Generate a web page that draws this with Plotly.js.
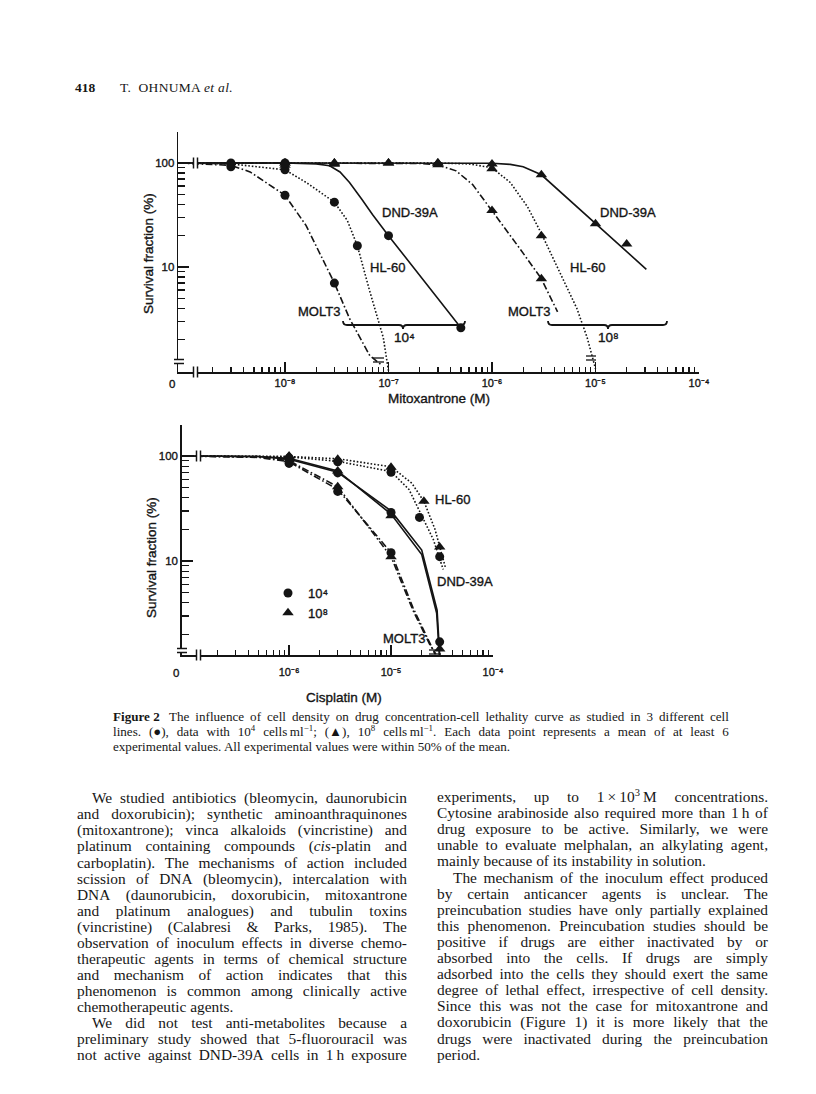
<!DOCTYPE html>
<html><head><meta charset="utf-8">
<script src="https://cdn.plot.ly/plotly-3.0.1.min.js"></script>
<style>
html,body{margin:0;padding:0;background:#fff;}
#page{position:relative;width:816px;height:1094px;overflow:hidden;background:#fff;}
#chart{position:absolute;left:0;top:0;width:816px;height:1094px;}
#chart text{stroke:#141414;stroke-width:0.35px;}
.txt{position:absolute;font-family:'Liberation Serif','Times New Roman',serif;color:#161616;white-space:nowrap;}
.jl{display:flex;justify-content:space-between;}
.txt sup{font-size:68%;line-height:0;vertical-align:0.55em;}
</style></head>
<body><div id="page"><div id="chart"></div><div id="text"></div></div>
<script>
// ---------------- DATA ----------------
// Mitoxantrone (top panel); 0 = zero concentration / zero survival (axis break)
const mitoMajorVals = [1e-8, 1e-7, 1e-6, 1e-5, 1e-4];
const mitoMajorText = ['10⁻⁸', '10⁻⁷', '10⁻⁶', '10⁻⁵', '10⁻⁴'];
const survMajorVals = [10, 100];
const survMajorText = ['10', '100'];

// 10^4 cells/ml (circles)
const mitoMOLT3_lo_x = [3e-9, 1e-8, 3e-8, 1e-7];
const mitoMOLT3_lo_y = [92, 49, 7, 0];
const mitoHL60_lo_x = [3e-9, 1e-8, 3e-8, 5e-8, 1e-7];
const mitoHL60_lo_y = [97, 86, 42, 16, 0];
const mitoDND_lo_x = [3e-9, 1e-8, 1e-7, 5e-7];
const mitoDND_lo_y = [100, 100, 20, 2.6];
// 10^8 cells/ml (triangles)
const mitoMOLT3_hi_x = [1e-8, 3e-8, 1e-7, 3e-7, 1e-6, 3e-6];
const mitoMOLT3_hi_y = [100, 100, 100, 96, 35, 7.7];
const mitoHL60_hi_x = [1e-8, 3e-8, 3e-7, 1e-6, 3e-6, 1e-5];
const mitoHL60_hi_y = [95, 97, 100, 88, 20, 0];
const mitoDND_hi_x = [1e-8, 3e-8, 1e-7, 3e-7, 1e-6, 3e-6, 1e-5, 2e-5];
const mitoDND_hi_y = [100, 100, 100, 100, 98, 77, 26, 16.6];

// fitted curves
const mitoMOLT3_lo_cx = [0, 3e-9, 4.6e-9, 1e-8, 1.6e-8, 2.3e-8, 3e-8, 4.2e-8, 6.6e-8, 8.5e-8];
const mitoMOLT3_lo_cy = [100, 95, 82, 49, 25, 12, 7, 3.2, 1.4, 1.15];
const mitoHL60_lo_cx = [0, 3e-9, 1e-8, 1.6e-8, 3e-8, 4e-8, 5e-8, 6.6e-8, 8.9e-8, 1e-7];
const mitoHL60_lo_cy = [100, 98, 86, 65, 42, 28, 16, 5.8, 2.1, 1.0];
const mitoDND_lo_cx = [0, 1e-8, 2e-8, 2.7e-8, 3.4e-8, 4.2e-8, 5.5e-8, 7e-8, 1e-7, 5e-7];
const mitoDND_lo_cy = [100, 100, 98, 94, 82, 65, 45, 32, 20, 2.6];
const mitoMOLT3_hi_cx = [0, 1e-7, 2e-7, 3e-7, 4.5e-7, 6.5e-7, 1e-6, 1.86e-6, 3e-6, 4.3e-6];
const mitoMOLT3_hi_cy = [100, 100, 99, 96, 84, 62, 35, 15, 7.7, 3.7];
const mitoHL60_hi_cx = [0, 3e-7, 6e-7, 1e-6, 1.5e-6, 2.2e-6, 3e-6, 4.6e-6, 6.6e-6, 8.3e-6, 1e-5];
const mitoHL60_hi_cy = [100, 100, 98, 90, 65, 38, 21, 8.5, 4, 2.1, 1.05];
const mitoDND_hi_cx = [0, 6e-7, 1e-6, 1.5e-6, 2e-6, 3e-6, 1e-5, 3.1e-5];
const mitoDND_hi_cy = [100, 100, 99.5, 97, 92, 77, 26, 9.5];

// Cisplatin (bottom panel)
const cisMajorVals = [1e-6, 1e-5, 1e-4];
const cisMajorText = ['10⁻⁶', '10⁻⁵', '10⁻⁴'];
const cisHL60_lo_x = [1e-6, 3e-6, 1e-5, 1.9e-5, 3e-5];
const cisHL60_lo_y = [96, 88, 70, 26, 11];
const cisHL60_hi_x = [1e-6, 3e-6, 1e-5, 2.1e-5, 3e-5];
const cisHL60_hi_y = [100, 93, 78, 37, 13.6];
const cisDND_lo_x = [1e-6, 3e-6, 1e-5, 3e-5];
const cisDND_lo_y = [92, 69, 29, 1.7];
const cisDND_hi_x = [1e-6, 3e-6, 1e-5, 3e-5];
const cisDND_hi_y = [97, 72, 27, 1.45];
const cisMOLT3_lo_x = [1e-6, 3e-6, 1e-5, 3e-5];
const cisMOLT3_lo_y = [85, 46, 12, 0];
const cisMOLT3_hi_x = [1e-6, 3e-6, 1e-5, 3e-5];
const cisMOLT3_hi_y = [92, 51, 11, 0];

const cisHL60_hi_cx = [0, 1e-6, 3e-6, 1e-5, 1.6e-5, 2.1e-5, 2.7e-5, 3.4e-5];
const cisHL60_hi_cy = [100, 99, 94, 79, 55, 37, 20, 8.8];
const cisHL60_lo_cx = [0, 1e-6, 3e-6, 1e-5, 1.5e-5, 1.9e-5, 2.6e-5, 3.25e-5];
const cisHL60_lo_cy = [100, 98, 89, 71, 48, 30, 16, 8.3];
const cisDND_lo_cx = [0, 5e-7, 1e-6, 3e-6, 1e-5, 2e-5, 2.83e-5, 2.95e-5, 3e-5];
const cisDND_lo_cy = [100, 99, 93, 70, 30, 12.7, 3.4, 1.6, 0];
const cisDND_hi_cx = [0, 5e-7, 1e-6, 3e-6, 1e-5, 2e-5, 2.8e-5, 2.93e-5, 2.98e-5];
const cisDND_hi_cy = [100, 99, 95, 72, 28, 11.5, 3.2, 1.5, 0];
const cisMOLT3_lo_cx = [0, 5e-7, 1e-6, 3e-6, 1e-5, 1.64e-5, 2.4e-5, 2.7e-5];
const cisMOLT3_lo_cy = [100, 97, 88, 48, 12, 3.6, 1.66, 1.3];
const cisMOLT3_hi_cx = [0, 5e-7, 1e-6, 3e-6, 1e-5, 1.64e-5, 2.4e-5, 2.75e-5];
const cisMOLT3_hi_cy = [100, 98, 90, 51, 11, 3.4, 1.6, 1.3];

const legendNames = ['10⁴', '10⁸'];

// ---------------- PAGE TEXT ----------------
const headerNum = '418';
const headerRun = 'T.&nbsp; OHNUMA <i>et&nbsp;al.</i>';
const captionLines = [
 '<b>Figure&nbsp;2</b>&nbsp; The influence of cell density on drug concentration-cell lethality curve as studied in 3 different cell',
 'lines. (●), data with 10<sup>4</sup> cells&#8201;ml<sup>−1</sup>; (▲), 10<sup>8</sup> cells&#8201;ml<sup>−1</sup>. Each data point represents a mean of at least 6',
 'experimental values. All experimental values were within 50% of the mean.'
];
const leftCol = [
 'We studied antibiotics (bleomycin, daunorubicin',
 'and doxorubicin); synthetic aminoanthraquinones',
 '(mitoxantrone); vinca alkaloids (vincristine) and',
 'platinum containing compounds (<i>cis</i>-platin and',
 'carboplatin). The mechanisms of action included',
 'scission of DNA (bleomycin), intercalation with',
 'DNA (daunorubicin, doxorubicin, mitoxantrone',
 'and platinum analogues) and tubulin toxins',
 '(vincristine) (Calabresi &amp; Parks, 1985). The',
 'observation of inoculum effects in diverse chemo-',
 'therapeutic agents in terms of chemical structure',
 'and mechanism of action indicates that this',
 'phenomenon is common among clinically active',
 'chemotherapeutic agents.',
 'We did not test anti-metabolites because a',
 'preliminary study showed that 5-fluorouracil was',
 'not active against DND-39A cells in 1&#8201;h exposure'
];
const leftIndent = [0, 14];
const leftLast = [13];
const rightCol = [
 'experiments, up to 1&#8201;×&#8201;10<sup>3</sup>&#8201;M concentrations.',
 'Cytosine arabinoside also required more than 1&#8201;h of',
 'drug exposure to be active. Similarly, we were',
 'unable to evaluate melphalan, an alkylating agent,',
 'mainly because of its instability in solution.',
 'The mechanism of the inoculum effect produced',
 'by certain anticancer agents is unclear. The',
 'preincubation studies have only partially explained',
 'this phenomenon. Preincubation studies should be',
 'positive if drugs are either inactivated by or',
 'absorbed into the cells. If drugs are simply',
 'adsorbed into the cells they should exert the same',
 'degree of lethal effect, irrespective of cell density.',
 'Since this was not the case for mitoxantrone and',
 'doxorubicin (Figure 1) it is more likely that the',
 'drugs were inactivated during the preincubation',
 'period.'
];
const rightIndent = [5];
const rightLast = [4, 16];

// ---------------- BUILD ----------------
const W = 816, H = 1094;
const BLACK = '#141414';
const SANS = 'Liberation Sans, Arial, sans-serif';
const px = x => x / W;
const py = y => 1 - y / H;

// panel geometry (pixels)
const TOP = {l: 178.4, r: 699, t: 132, b: 372, xr: [-9.03, -4], yr: [-0.01, 2.298]};
const BOT = {l: 182, r: 493, t: 425, b: 655, xr: [-7.05, -4], yr: [0.105, 2.295]};

const zeroTo = (arr, range) => arr.map(v => v === 0 ? Math.pow(10, range[0]) : v);

function minorTicks(lo, hi) {
  const out = [];
  for (let d = Math.floor(lo); d < Math.ceil(hi); d++) {
    for (let m = 2; m <= 9; m++) {
      const v = m * Math.pow(10, d);
      const lv = Math.log10(v);
      if (lv > lo && lv < hi) out.push(v);
    }
  }
  return out;
}

function logAxis(P, isX, anchor, majorVals, majorText, majLen, minLen, fsize, standoff) {
  const dom = isX ? [px(P.l), px(P.r)] : [py(P.b), py(P.t)];
  const range = isX ? P.xr : P.yr;
  return {
    domain: dom, range: range, type: 'log', anchor: anchor,
    showline: true, linecolor: BLACK, linewidth: 1.7, mirror: false,
    ticks: 'inside', ticklen: majLen, tickwidth: 1.5, tickcolor: BLACK,
    tickmode: 'array', tickvals: majorVals, ticktext: majorText,
    tickfont: {family: SANS, size: fsize, color: BLACK},
    ticklabelstandoff: standoff || 0,
    showgrid: false, zeroline: false, fixedrange: true,
    minor: {tickmode: 'array', tickvals: minorTicks(range[0], range[1]), ticks: 'inside',
            ticklen: minLen, tickwidth: 1.3, tickcolor: BLACK, showgrid: false}
  };
}

const DASH = {MOLT3: '7px,2.5px,1.6px,2.5px', HL60: '1.6px,1.9px', DND: 'solid'};
const traces = [];
function addCurve(xs, ys, P, ax, ay, dash) {
  traces.push({type: 'scatter', mode: 'lines', x: zeroTo(xs, P.xr), y: zeroTo(ys, P.yr),
    xaxis: ax, yaxis: ay, line: {color: BLACK, width: 1.6, dash: dash},
    hoverinfo: 'skip', showlegend: false});
}
function addPts(xs, ys, P, ax, ay, sym, legendIdx) {
  traces.push({type: 'scatter', mode: 'markers', x: zeroTo(xs, P.xr), y: zeroTo(ys, P.yr),
    xaxis: ax, yaxis: ay, cliponaxis: false,
    marker: {symbol: sym, size: sym === 'circle' ? 9 : 10, color: BLACK, line: {width: 0}},
    name: legendIdx >= 0 ? legendNames[legendIdx] : '',
    showlegend: legendIdx >= 0, hoverinfo: 'skip'});
}

// top panel
addCurve(mitoMOLT3_lo_cx, mitoMOLT3_lo_cy, TOP, 'x', 'y', DASH.MOLT3);
addCurve(mitoHL60_lo_cx, mitoHL60_lo_cy, TOP, 'x', 'y', DASH.HL60);
addCurve(mitoDND_lo_cx, mitoDND_lo_cy, TOP, 'x', 'y', DASH.DND);
addCurve(mitoMOLT3_hi_cx, mitoMOLT3_hi_cy, TOP, 'x', 'y', DASH.MOLT3);
addCurve(mitoHL60_hi_cx, mitoHL60_hi_cy, TOP, 'x', 'y', DASH.HL60);
addCurve(mitoDND_hi_cx, mitoDND_hi_cy, TOP, 'x', 'y', DASH.DND);
addPts(mitoMOLT3_lo_x, mitoMOLT3_lo_y, TOP, 'x', 'y', 'circle', -1);
addPts(mitoHL60_lo_x, mitoHL60_lo_y, TOP, 'x', 'y', 'circle', -1);
addPts(mitoDND_lo_x, mitoDND_lo_y, TOP, 'x', 'y', 'circle', -1);
addPts(mitoMOLT3_hi_x, mitoMOLT3_hi_y, TOP, 'x', 'y', 'triangle-up', -1);
addPts(mitoHL60_hi_x, mitoHL60_hi_y, TOP, 'x', 'y', 'triangle-up', -1);
addPts(mitoDND_hi_x, mitoDND_hi_y, TOP, 'x', 'y', 'triangle-up', -1);

// bottom panel
addCurve(cisHL60_hi_cx, cisHL60_hi_cy, BOT, 'x2', 'y2', DASH.HL60);
addCurve(cisHL60_lo_cx, cisHL60_lo_cy, BOT, 'x2', 'y2', DASH.HL60);
addCurve(cisDND_lo_cx, cisDND_lo_cy, BOT, 'x2', 'y2', DASH.DND);
addCurve(cisDND_hi_cx, cisDND_hi_cy, BOT, 'x2', 'y2', DASH.DND);
addCurve(cisMOLT3_lo_cx, cisMOLT3_lo_cy, BOT, 'x2', 'y2', DASH.MOLT3);
addCurve(cisMOLT3_hi_cx, cisMOLT3_hi_cy, BOT, 'x2', 'y2', DASH.MOLT3);
addPts(cisHL60_lo_x, cisHL60_lo_y, BOT, 'x2', 'y2', 'circle', 0);
addPts(cisDND_lo_x, cisDND_lo_y, BOT, 'x2', 'y2', 'circle', -1);
addPts(cisMOLT3_lo_x, cisMOLT3_lo_y, BOT, 'x2', 'y2', 'circle', -1);
addPts(cisHL60_hi_x, cisHL60_hi_y, BOT, 'x2', 'y2', 'triangle-up', 1);
addPts(cisDND_hi_x, cisDND_hi_y, BOT, 'x2', 'y2', 'triangle-up', -1);
addPts(cisMOLT3_hi_x, cisMOLT3_hi_y, BOT, 'x2', 'y2', 'triangle-up', -1);

// annotations
const ann = [];
function label(text, x, y, size, opts) {
  ann.push(Object.assign({text: text, x: px(x), y: py(y), xref: 'paper', yref: 'paper',
    showarrow: false, xanchor: 'center', yanchor: 'middle',
    font: {family: SANS, size: size, color: BLACK}}, opts || {}));
}
label('DND-39A', 410, 213, 13);
label('HL-60', 387, 268, 13);
label('MOLT3', 319, 312, 13);
label('DND-39A', 628, 213, 13);
label('HL-60', 587, 268, 13);
label('MOLT3', 529, 312, 13);
label('10⁴', 404, 338, 13.5);
label('10⁸', 608, 338, 13.5);
label('0', 172, 384, 11.5);
label('Mitoxantrone (M)', 439, 398, 13.5);
label('Survival fraction (%)', 149, 254, 13.5, {textangle: -90});
label('HL-60', 452, 499, 13);
label('DND-39A', 465, 582, 13);
label('MOLT3', 404, 638, 13);
label('0', 176, 673, 11.5);
label('Cisplatin (M)', 344, 697, 13.5);
label('Survival fraction (%)', 151, 558, 13.5, {textangle: -90});

// decorative shapes: axis breaks and braces
const shapes = [];
function seg(x0, y0, x1, y1, w) {
  shapes.push({type: 'line', xref: 'paper', yref: 'paper', x0: px(x0), y0: py(y0), x1: px(x1), y1: py(y1),
    line: {color: BLACK, width: w || 1.5}});
}
function gap(x0, y0, x1, y1) {
  shapes.push({type: 'rect', xref: 'paper', yref: 'paper', x0: px(x0), y0: py(y0), x1: px(x1), y1: py(y1),
    fillcolor: '#fff', line: {width: 0}});
}
function brk_v(x, y, h) { gap(x - 1, y - 2, x + 3, y + 2); seg(x - 1.5, y - h, x - 1.5, y + h); seg(x + 2.5, y - h, x + 2.5, y + h); }
function brk_h(x, y, w) { gap(x - 2, y - 1.5, x + 2, y + 2.5); seg(x - w, y - 1.5, x + w, y - 1.5); seg(x - w, y + 2.5, x + w, y + 2.5); }
// top panel
brk_v(195, 372, 5.5); brk_v(195, 163, 5.5); brk_h(179, 361, 5);
seg(373, 358, 384, 358, 1.3); seg(373, 362, 384, 362, 1.3);
seg(586, 356, 596, 356, 1.3); seg(586, 360, 596, 360, 1.3);
// bottom panel
brk_v(198, 655, 5.5); brk_v(198, 456, 5.5); brk_h(182, 650, 5);
seg(429, 650, 441, 650, 1.3); seg(429, 654, 441, 654, 1.3);
function brace(x0, x1, xm, y, h) {
  const P = (x, yy) => px(x).toFixed(5) + ',' + py(yy).toFixed(5);
  const path = 'M ' + P(x0, y - h) + ' Q ' + P(x0, y) + ' ' + P(x0 + 4, y) +
    ' L ' + P(xm - 4, y) + ' Q ' + P(xm, y) + ' ' + P(xm, y + h) +
    ' Q ' + P(xm, y) + ' ' + P(xm + 4, y) + ' L ' + P(x1 - 4, y) +
    ' Q ' + P(x1, y) + ' ' + P(x1, y - h);
  shapes.push({type: 'path', xref: 'paper', yref: 'paper', path: path, line: {color: BLACK, width: 1.8}});
}
brace(343, 465, 403, 325, 4);
brace(548, 667, 608, 325, 4);

const layout = {
  width: W, height: H, margin: {l: 0, r: 0, t: 0, b: 0},
  paper_bgcolor: '#fff', plot_bgcolor: 'rgba(0,0,0,0)',
  font: {family: SANS, color: BLACK},
  showlegend: true,
  legend: {x: px(268), y: py(578), xanchor: 'left', yanchor: 'top', bgcolor: 'rgba(0,0,0,0)',
    font: {family: SANS, size: 13, color: BLACK}, tracegroupgap: 0, itemwidth: 30},
  xaxis: logAxis(TOP, true, 'y', mitoMajorVals, mitoMajorText, 10, 5, 11, 0),
  yaxis: logAxis(TOP, false, 'x', survMajorVals, survMajorText, 11, 7, 11.5, 0),
  xaxis2: logAxis(BOT, true, 'y2', cisMajorVals, cisMajorText, 10, 5, 11, 6),
  yaxis2: logAxis(BOT, false, 'x2', survMajorVals, survMajorText, 11, 7, 11.5, 0),
  annotations: ann, shapes: shapes
};
Plotly.newPlot('chart', traces, layout, {staticPlot: true, displayModeBar: false});

// page text
const host = document.getElementById('text');
function addLine(html, left, width, cy, size, lh, justify, indent, extra) {
  const d = document.createElement('div');
  d.className = 'txt' + (justify ? ' jl' : '');
  d.style.left = (left + (indent || 0)) + 'px';
  d.style.width = (width - (indent || 0)) + 'px';
  d.style.top = (cy - lh / 2) + 'px';
  d.style.height = lh + 'px';
  d.style.lineHeight = lh + 'px';
  d.style.fontSize = size + 'px';
  if (extra) Object.assign(d.style, extra);
  if (justify) {
    html.split(' ').forEach(w => { const s = document.createElement('span'); s.innerHTML = w; d.appendChild(s); });
  } else {
    d.innerHTML = html;
  }
  host.appendChild(d);
}
addLine('<b>' + headerNum + '</b>', 75, 40, 88, 13.5, 16, false, 0);
addLine(headerRun, 120, 150, 88, 13.5, 16, false, 0, {letterSpacing: '0.3px'});
captionLines.forEach((t, i) => addLine(t, 113, 616, 716 + i * 15.2, 13.1, 15, i < 2, 0));
leftCol.forEach((t, i) => addLine(t, 77, 330, 798.3 + i * 16.05, 15.4, 16, leftLast.indexOf(i) < 0, leftIndent.indexOf(i) >= 0 ? 15 : 0));
rightCol.forEach((t, i) => addLine(t, 437, 331, 797 + i * 16.1, 15.4, 16, rightLast.indexOf(i) < 0, rightIndent.indexOf(i) >= 0 ? 16 : 0));
</script></body></html>
